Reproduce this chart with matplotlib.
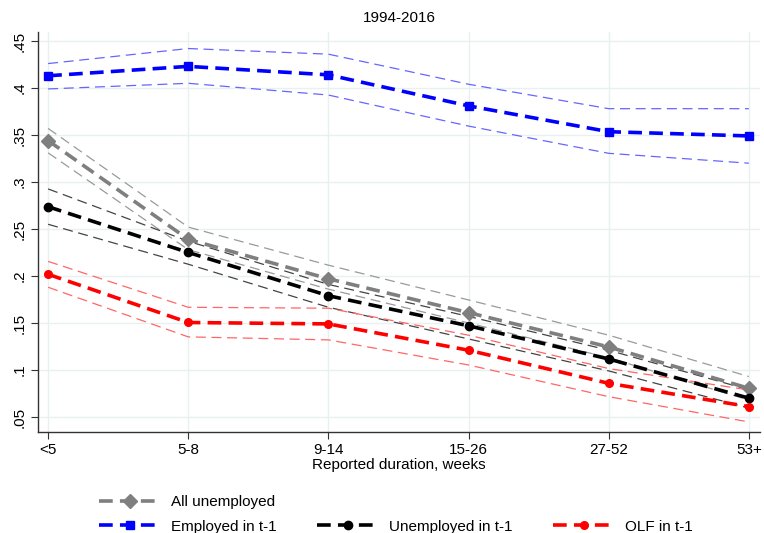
import matplotlib
matplotlib.use("Agg")
import matplotlib.pyplot as plt
from matplotlib.lines import Line2D

plt.rcParams['font.family'] = ['Liberation Sans', 'DejaVu Sans']

categories = ["<5", "5-8", "9-14", "15-26", "27-52", "53+"]

all_unemp = [0.344, 0.239, 0.197, 0.161, 0.1245, 0.0805]
all_unemp_hi = [0.357, 0.252, 0.2115, 0.1745, 0.137, 0.093]
all_unemp_lo = [0.331, 0.228, 0.186, 0.150, 0.113, 0.068]

employed = [0.413, 0.423, 0.414, 0.381, 0.3535, 0.349]
employed_hi = [0.426, 0.442, 0.436, 0.404, 0.378, 0.378]
employed_lo = [0.399, 0.405, 0.3925, 0.3595, 0.3305, 0.320]

unemployed = [0.2737, 0.225, 0.179, 0.147, 0.1117, 0.070]
unemployed_hi = [0.2926, 0.237, 0.191, 0.157, 0.121, 0.079]
unemployed_lo = [0.255, 0.2125, 0.1667, 0.133, 0.099, 0.0596]

olf = [0.2018, 0.1505, 0.149, 0.121, 0.0858, 0.061]
olf_hi = [0.2155, 0.1667, 0.1657, 0.137, 0.1015, 0.0787]
olf_lo = [0.188, 0.1352, 0.132, 0.1053, 0.0716, 0.0447]

yticks = [0.05, 0.1, 0.15, 0.2, 0.25, 0.3, 0.35, 0.4, 0.45]
ytick_labels = [".05", ".1", ".15", ".2", ".25", ".3", ".35", ".4", ".45"]

fig = plt.figure(figsize=(7.64, 5.33), dpi=100)
ax = fig.add_axes([0.0494, 0.1895, 0.9454, 0.7505])
x = list(range(len(categories)))

series = [
    (all_unemp, all_unemp_hi, all_unemp_lo, "#7f7f7f", "#9a9a9a", "D", 7, "All unemployed"),
    (unemployed, unemployed_hi, unemployed_lo, "#000000", "#444444", "o", 6, "Unemployed in t-1"),
    (olf, olf_hi, olf_lo, "#ff0000", "#ff6666", "o", 5.5, "OLF in t-1"),
    (employed, employed_hi, employed_lo, "#0000ff", "#6666ff", "s", 6, "Employed in t-1"),
]

handles = {}
for vals, hi, lo, col, cicol, mk, ms, lab in series:
    for ci in (hi, lo):
        ax.plot(x, ci, color=cicol, lw=0.9, dashes=(8, 4.5), zorder=2)
for vals, hi, lo, col, cicol, mk, ms, lab in series:
    h, = ax.plot(x, vals, color=col, lw=2.6, dashes=(3.8, 2), marker=mk,
                 markersize=ms, zorder=3, label=lab)
    handles[lab] = h

ax.set_xlim(-0.074, 5.08)
ax.set_ylim(0.034, 0.4596)
ax.set_xticks(x)
ax.set_xticklabels(categories, fontsize=11)
ax.set_yticks(yticks)
ax.set_yticklabels(ytick_labels, fontsize=11, rotation=90, va="center")
ax.grid(True, color="#e8f0f2", lw=1.0)
ax.set_axisbelow(True)
for s in ("top", "right"):
    ax.spines[s].set_visible(False)
for s in ("left", "bottom"):
    ax.spines[s].set_color("#333333")
    ax.spines[s].set_linewidth(1.0)
ax.tick_params(direction="out", length=5, color="#333333", pad=3)
ax.set_xlabel("Reported duration, weeks", fontsize=11, labelpad=1)
ax.set_title("1994-2016", fontsize=11, pad=7)

blank = Line2D([], [], linestyle="none")
leg_handles = [handles["All unemployed"], handles["Employed in t-1"], blank,
               handles["Unemployed in t-1"], blank, handles["OLF in t-1"]]
leg_labels = ["All unemployed", "Employed in t-1", "", "Unemployed in t-1", "", "OLF in t-1"]
fig.legend(leg_handles, leg_labels, ncol=3, loc="upper left",
           bbox_to_anchor=(0.122, 0.083), frameon=False, fontsize=11,
           handlelength=4.0, handletextpad=0.7, columnspacing=2.65,
           labelspacing=0.7, numpoints=1, borderaxespad=0)

fig.savefig("out.png", dpi=100)
